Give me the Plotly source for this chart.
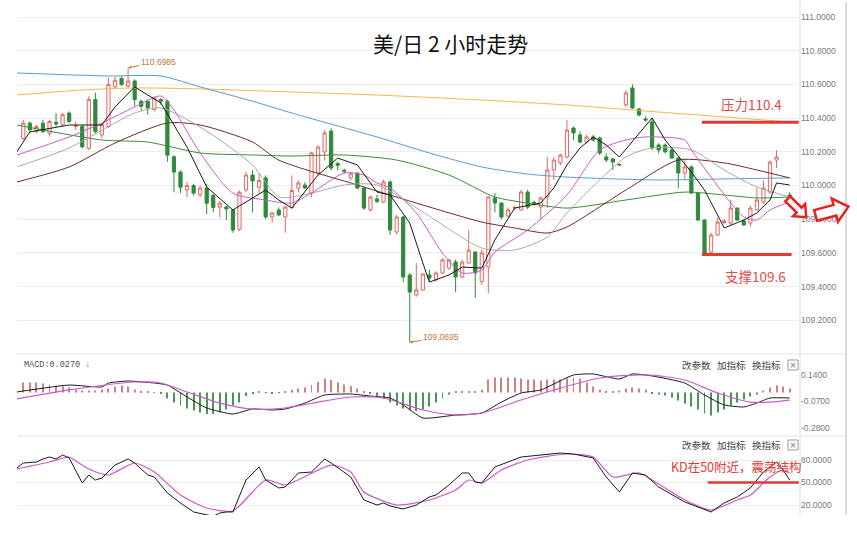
import math
import plotly.graph_objects as go

# ---------------- data ----------------
bar_index = list(range(118))
open_ = [110.28,110.37,110.32,110.37,110.31,110.375,110.36,110.43,110.35,110.35,
         110.22,110.51,110.30,110.35,110.585,110.635,110.59,110.62,110.50,110.50,
         110.45,110.51,110.50,110.17,110.08,109.975,110.00,109.945,109.985,109.94,
         109.872,109.872,109.855,109.74,109.973,110.062,109.99,110.045,109.813,109.855,
         109.813,109.87,109.985,110.003,109.955,110.074,110.199,110.323,110.13,110.09,
         110.045,110.074,109.985,109.855,109.92,109.902,110.021,109.724,109.813,109.469,
         109.35,109.38,109.469,109.439,109.481,109.51,109.546,109.457,109.54,109.605,
         109.43,109.516,109.926,109.896,109.819,109.866,109.855,109.961,109.90,109.872,
         109.932,110.092,110.134,110.169,110.341,110.30,110.258,110.288,110.282,110.169,
         110.157,110.125,110.478,110.579,110.454,110.395,110.377,110.24,110.24,110.211,
         110.163,110.074,110.11,109.955,109.795,109.605,109.706,109.78,109.777,109.866,
         109.79,109.777,109.855,109.902,109.961,110.151,None,109.944]
high = [110.39,110.38,110.36,110.39,110.39,110.43,110.43,110.44,110.38,110.36,
        110.53,110.55,110.37,110.64,110.645,110.65,110.6985,110.63,110.51,110.51,
        110.53,110.52,110.51,110.18,110.09,110.02,110.01,110.00,110.01,109.95,
        109.91,109.88,109.86,109.97,110.08,110.09,110.07,110.06,109.84,109.87,
        109.88,110.06,110.03,110.02,110.20,110.24,110.33,110.34,110.14,110.10,
        110.08,110.08,109.99,109.94,109.945,110.035,110.03,109.825,109.82,109.48,
        109.54,109.48,109.50,109.49,109.57,109.565,109.56,109.56,109.736,109.61,
        109.62,109.935,109.955,109.90,109.87,109.88,109.975,109.975,109.91,109.935,
        110.17,110.17,110.19,110.39,110.35,110.32,110.30,110.30,110.29,110.19,
        110.165,110.13,110.567,110.60,110.46,110.41,110.40,110.25,110.25,110.22,
        110.17,110.15,110.12,109.96,109.80,109.72,109.81,109.80,109.914,109.87,
        109.80,109.88,109.985,110.03,110.15,110.21,None,109.96]
low = [110.27,110.32,110.31,110.31,110.29,110.35,110.35,110.37,110.33,110.22,
       110.21,110.31,110.28,110.34,110.58,110.59,110.58,110.47,110.44,110.42,
       110.44,110.48,110.14,109.96,109.955,109.93,109.94,109.93,109.83,109.84,
       109.81,109.795,109.72,109.73,109.96,109.84,109.955,109.80,109.78,109.82,
       109.72,109.86,109.96,109.98,109.93,110.06,110.15,110.09,110.09,110.07,
       110.03,109.98,109.855,109.845,109.895,109.895,109.706,109.71,109.427,109.0695,
       109.34,109.375,109.427,109.43,109.475,109.50,109.368,109.45,109.535,109.332,
       109.41,109.362,109.84,109.80,109.81,109.855,109.85,109.86,109.88,109.80,
       109.866,110.033,110.12,110.16,110.27,110.25,110.25,110.26,110.18,110.139,
       110.092,110.118,110.466,110.455,110.41,110.38,110.21,110.19,110.19,110.16,
       109.985,110.033,109.95,109.79,109.587,109.593,109.70,109.77,109.766,109.79,
       109.76,109.755,109.85,109.89,109.95,110.104,None,109.92]
close = [110.37,110.33,110.35,110.32,110.38,110.365,110.42,110.38,110.355,110.23,
         110.51,110.32,110.36,110.60,110.625,110.60,110.62,110.51,110.47,110.46,
         110.52,110.50,110.18,110.08,109.99,110.00,109.955,109.985,109.895,109.87,
         109.895,109.861,109.736,109.96,110.062,110.027,110.03,109.813,109.837,109.825,
         109.872,109.97,110.015,109.985,110.193,110.228,110.312,110.104,110.12,110.085,
         110.07,109.985,109.866,109.932,109.905,110.021,109.736,109.813,109.457,109.368,
         109.38,109.475,109.451,109.481,109.558,109.558,109.457,109.546,109.617,109.481,
         109.60,109.932,109.896,109.813,109.855,109.87,109.961,109.872,109.895,109.926,
         110.092,110.151,110.181,110.329,110.312,110.258,110.288,110.27,110.193,110.151,
         110.139,110.122,110.549,110.46,110.418,110.389,110.223,110.211,110.20,110.163,
         110.074,110.11,109.955,109.795,109.599,109.706,109.783,109.79,109.866,109.795,
         109.766,109.866,109.914,109.985,110.139,110.169,None,109.93]

ma5_x = [-1,1,7,12,14,17,19,21,25,28,32,35,37,39,41,45,48,51,54,56,59,61,62,65,67,70,72,75,79,81,
         83,85,87,89,91,96,98,102,104,106,107,110,112,114,115,117]
ma5_y = [110.199,110.318,110.359,110.359,110.466,110.585,110.537,110.490,110.228,109.991,
         109.855,109.926,109.973,109.914,109.866,110.062,110.163,110.122,109.961,109.944,
         109.777,109.540,109.427,109.469,109.516,109.510,109.677,109.866,109.896,109.985,
         110.122,110.223,110.288,110.240,110.169,110.401,110.270,110.080,109.973,109.825,
         109.748,109.795,109.837,109.914,110.015,110.003]
ma10_x = [-1,7,12,17,21,23,27,32,37,41,44,49,52,54,56,60,64,67,70,72,77,83,88,92,95,101,102,105,110,112,114,117]
ma10_y = [110.181,110.288,110.371,110.466,110.531,110.448,110.193,109.955,109.914,109.896,
          109.955,110.074,110.062,110.015,109.985,109.837,109.599,109.481,109.499,109.605,
          109.736,109.944,110.211,110.270,110.288,110.270,110.211,110.050,109.813,109.795,
          109.855,109.902]
ma20_x = [-1,7,17,21,27,35,39,44,49,54,61,70,75,80,83,92,96,102,107,112,117]
ma20_y = [110.110,110.223,110.430,110.460,110.347,110.122,109.932,109.955,110.003,110.003,
          109.843,109.629,109.617,109.694,109.837,110.169,110.223,110.211,110.092,109.991,109.932]
ma_brown_x = [-1,7,14,22,27,35,39,51,61,70,75,80,83,92,100,107,112,117]
ma_brown_y = [110.021,110.110,110.252,110.371,110.359,110.258,110.151,110.003,109.884,109.783,
              109.748,109.718,109.754,109.973,110.151,110.134,110.092,110.045]
ma_green_x = [-1,12,19,27,35,41,49,57,65,72,77,83,92,101,107,112,117]
ma_green_y = [110.359,110.270,110.258,110.193,110.181,110.175,110.181,110.151,110.062,109.932,
              109.896,109.866,109.914,109.961,109.944,109.926,109.932]
ma_blue_x = [-1,13,21,27,35,41,54,62,70,77,83,97,107,117]
ma_blue_y = [110.668,110.650,110.650,110.585,110.500,110.430,110.288,110.193,110.110,110.068,
             110.050,110.033,110.039,110.045]
ma_orange_x = [-1,9,17,27,41,54,70,83,97,107,117]
ma_orange_y = [110.537,110.567,110.579,110.573,110.555,110.537,110.507,110.478,110.436,110.407,110.377]

macd_hist = [0.079,0.079,0.079,0.071,0.063,0.056,0.048,0.040,0.024,0.016,
             0.016,0.016,0.024,0.032,0.048,0.056,0.048,0.024,0.008,0.006,
             0.003,-0.012,-0.048,-0.079,-0.103,-0.127,-0.143,-0.159,-0.171,-0.171,
             -0.159,-0.135,-0.103,-0.079,-0.028,-0.008,0.006,-0.004,-0.008,-0.004,
             0.008,0.024,0.032,0.040,0.060,0.083,0.111,0.099,0.079,0.063,
             0.052,0.032,0.004,-0.012,-0.028,-0.052,-0.079,-0.103,-0.127,-0.143,
             -0.147,-0.135,-0.111,-0.079,-0.048,-0.016,0.008,0.008,0.008,0.012,
             0.024,0.103,0.119,0.119,0.119,0.119,0.111,0.103,0.103,0.095,
             0.103,0.103,0.103,0.111,0.119,0.111,0.079,0.048,0.024,0.008,
             0.004,0.016,0.032,0.040,0.032,0.024,-0.008,-0.016,-0.024,-0.040,
             -0.063,-0.087,-0.111,-0.135,-0.167,-0.183,-0.159,-0.135,-0.103,-0.079,
             -0.056,-0.032,-0.016,0.016,0.040,0.056,0.048,0.032]
dif_x = [-1,7,12,13,16,20,22,25,28,32,35,38,40,43,46,50,53,56,58,61,66,70,73,76,79,84,87,91,93,96,
         101,104,107,110,112,114,117]
dif_y = [0.004,0.059,0.044,0.075,0.091,0.075,0.059,-0.036,-0.123,-0.171,
         -0.131,-0.139,-0.131,-0.084,-0.020,-0.012,-0.028,-0.044,-0.099,-0.203,
         -0.179,-0.163,-0.076,-0.004,0.020,0.139,0.147,0.107,0.147,0.131,
         0.075,-0.020,-0.099,-0.115,-0.084,-0.044,-0.044]
dea_x = [-1,7,17,21,25,30,35,40,45,50,55,61,66,70,76,81,88,95,101,106,111,114,117]
dea_y = [-0.052,0.020,0.083,0.075,0.004,-0.084,-0.131,-0.123,-0.076,-0.036,-0.044,-0.139,
         -0.179,-0.163,-0.060,0.020,0.115,0.139,0.099,-0.004,-0.076,-0.076,-0.060]

k_x = [-1,0,2,3,4,5,6,7,9,10,11,12,14,16,17,19,20,22,24,26,29,30,31,32,34,36,37,39,40,42,
       44,46,47,50,52,54,55,56,58,60,62,63,65,67,68,69,70,72,76,79,82,84,87,89,91,93,95,97,
       101,105,107,109,111,113,115,116,117]
k_y = [69.3,76,77.3,81.3,84,81.3,86.7,82.7,49.3,60,53.3,56,73.3,81.3,76,60,57.3,36,22.7,10.7,
       5,9.3,10.7,10.7,53.3,70.7,53.3,42.7,44,62.7,64,81.3,76,57.3,26.7,20,22.7,18.7,14.7,20,
       30.7,33.3,46.7,62.7,62.7,50.7,49.3,70.7,84,86.7,89.3,88,82.7,57.3,37.3,62.7,60,44,24,10.7,
       22.7,30.7,42.7,64,77.3,66.7,53.3]
d_x = [-1,4,7,8,10,13,17,20,24,28,32,37,40,47,50,52,57,62,66,68,70,73,77,83,87,90,94,96,101,105,
       109,111,114,116,117]
d_y = [68,77.3,84,78.7,68,60,76,64,33.3,16,12,53.3,46.7,73.3,64,37.3,20,26.7,40,53.3,
       49.3,66.7,80,88,84,57.3,62.7,53.3,26.7,13.3,26.7,33.3,57.3,66.7,62.7]

price_ticks = [109.2,109.4,109.6,109.8,110.0,110.2,110.4,110.6,110.8,111.0]
macd_ticks = [0.14,-0.07,-0.28]
kd_ticks = [80,50,20]
resist_level = 110.375
support_level = 109.59
kd_level = 50
high_mark = (16, 110.6985)
low_mark = (59, 109.0695)

# ---------------- layout helpers ----------------
W, H = 857, 542
L, R, T, B = 17, 57, 0, 27
PW, PH = W - L - R, H - T - B


def px(x):
    return (x - L) / PW


def py(y):
    return (PH - (y - T)) / PH


CJK = "Noto Sans CJK SC"
NUM = "Liberation Sans"
RED = "#e23a36"

fig = go.Figure()

fig.add_trace(go.Candlestick(
    x=bar_index, open=open_, high=high, low=low, close=close,
    xaxis="x", yaxis="y", whiskerwidth=0,
    increasing=dict(line=dict(color="#de6b66", width=1), fillcolor="#fff7f7"),
    decreasing=dict(line=dict(color="#2f8a3b", width=1), fillcolor="#2f8a3b"),
    hoverinfo="skip"))

ma_specs = [
    (ma_orange_x, ma_orange_y, "#f2b84b", "spline"),
    (ma_blue_x, ma_blue_y, "#5b9bd0", "spline"),
    (ma_green_x, ma_green_y, "#3d8c3d", "spline"),
    (ma_brown_x, ma_brown_y, "#6e2a2a", "spline"),
    (ma20_x, ma20_y, "#a9a9a9", "spline"),
    (ma10_x, ma10_y, "#cc5acc", "spline"),
    (ma5_x, ma5_y, "#1a1a1a", "linear"),
]
for xs, ys, col, shp in ma_specs:
    fig.add_trace(go.Scatter(x=xs, y=ys, mode="lines", xaxis="x", yaxis="y",
                             line=dict(color=col, width=1, shape=shp, smoothing=0.7),
                             hoverinfo="skip"))

fig.add_trace(go.Bar(x=bar_index, y=macd_hist, xaxis="x2", yaxis="y2", width=0.15,
                     marker=dict(color=["#cf8080" if v >= 0 else "#4a9458" for v in macd_hist],
                                 line=dict(width=0)),
                     hoverinfo="skip"))
fig.add_trace(go.Scatter(x=dif_x, y=dif_y, mode="lines", xaxis="x2", yaxis="y2",
                         line=dict(color="#1a1a1a", width=1, shape="spline", smoothing=0.5),
                         hoverinfo="skip"))
fig.add_trace(go.Scatter(x=dea_x, y=dea_y, mode="lines", xaxis="x2", yaxis="y2",
                         line=dict(color="#cc5acc", width=1.2, shape="spline", smoothing=0.7),
                         hoverinfo="skip"))

fig.add_trace(go.Scatter(x=d_x, y=d_y, mode="lines", xaxis="x3", yaxis="y3",
                         line=dict(color="#cc5acc", width=1.2, shape="spline", smoothing=0.6),
                         hoverinfo="skip"))
fig.add_trace(go.Scatter(x=k_x, y=k_y, mode="lines", xaxis="x3", yaxis="y3",
                         line=dict(color="#1a1a1a", width=1), hoverinfo="skip"))

xr = [-0.962, 118.58]
xax = dict(range=xr, domain=[0, 1], showticklabels=False, showgrid=False, zeroline=False,
           showline=False, ticks="", fixedrange=True)
yax_common = dict(side="right", zeroline=False, showline=False, ticks="",
                  tickfont=dict(family=NUM, size=8.5, color="#7a7a7a"), gridcolor="#eeeeee",
                  gridwidth=1)

fig.update_layout(
    width=W, height=H, margin=dict(l=L, r=R, t=T, b=B),
    paper_bgcolor="white", plot_bgcolor="white", showlegend=False, hovermode=False,
    xaxis=dict(xax, anchor="y", rangeslider=dict(visible=False)),
    xaxis2=dict(xax, anchor="y2"),
    xaxis3=dict(xax, anchor="y3"),
    yaxis=dict(yax_common, domain=[py(352), 1.0], range=[109.0119, 111.1009],
               tickvals=price_ticks, ticktext=["%.4f" % v for v in price_ticks], showgrid=True),
    yaxis2=dict(yax_common, domain=[py(436), py(354)], range=[-0.3454, 0.3054],
                tickvals=macd_ticks, ticktext=["%.4f" % v for v in macd_ticks], showgrid=False),
    yaxis3=dict(yax_common, domain=[0, py(437)], range=[6.67, 110.67],
                tickvals=kd_ticks, ticktext=["%.4f" % v for v in kd_ticks], showgrid=True),
)

shapes = []
# frame lines
shapes.append(dict(type="line", xref="paper", yref="paper", x0=px(800), x1=px(800), y0=0, y1=1,
                   line=dict(color="#dddddd", width=1), layer="below"))
shapes.append(dict(type="line", xref="paper", yref="paper", x0=px(846), x1=px(846), y0=0, y1=py(2),
                   line=dict(color="#cfcfcf", width=1.5)))
for yy in (354, 436):
    shapes.append(dict(type="line", xref="paper", yref="paper", x0=0, x1=px(846), y0=py(yy), y1=py(yy),
                       line=dict(color="#e2e2e2", width=1)))
# key levels
shapes.append(dict(type="line", xref="x", yref="y", x0=103.6, x1=118.4, y0=resist_level, y1=resist_level,
                   line=dict(color=RED, width=3)))
shapes.append(dict(type="line", xref="x", yref="y", x0=103.6, x1=117.3, y0=support_level, y1=support_level,
                   line=dict(color=RED, width=3)))
shapes.append(dict(type="line", xref="x3", yref="y3", x0=104.5, x1=118.4, y0=kd_level, y1=kd_level,
                   line=dict(color=RED, width=2.5)))


def arrow_path(cx, cy, length, body_hw, head_hw, head_len, ang_deg):
    a = math.radians(ang_deg)
    c, s = math.cos(a), math.sin(a)
    half = length / 2
    base = half - head_len
    pts = [(-half, -body_hw), (base, -body_hw), (base, -head_hw), (half, 0),
           (base, head_hw), (base, body_hw), (-half, body_hw)]
    out = []
    for u, v in pts:
        X = cx + u * c - v * s
        Y = cy + u * s + v * c
        out.append("%.5f,%.5f" % (px(X), py(Y)))
    return "M " + " L ".join(out) + " Z"


shapes.append(dict(type="path", xref="paper", yref="paper",
                   path=arrow_path(797, 208, 26, 3.5, 8.5, 10, 45),
                   line=dict(color="#e8201e", width=2.5), fillcolor="white"))
shapes.append(dict(type="path", xref="paper", yref="paper",
                   path=arrow_path(832, 211, 34, 5.5, 12, 14, -15),
                   line=dict(color="#e8201e", width=2.5), fillcolor="white"))
# close boxes
for yy in (365, 445):
    shapes.append(dict(type="rect", xref="paper", yref="paper", x0=px(788), x1=px(798),
                       y0=py(yy + 5), y1=py(yy - 5), line=dict(color="#999999", width=1)))
fig.update_layout(shapes=shapes)

ann = []


def text(x, y, s, size, color, family=CJK, anchor="center"):
    ann.append(dict(xref="paper", yref="paper", x=px(x), y=py(y), text=s, showarrow=False,
                    xanchor=anchor, yanchor="middle", font=dict(family=family, size=size, color=color)))


text(450, 43, "美/日 2 小时走势", 21, "#111111")
text(751, 104, "压力110.4", 13.5, "#e24b4b")
text(755, 276, "支撑109.6", 13.5, "#e24b4b")
text(736, 466, "KD在50附近，震荡结构", 12.5, "#e23a36")
text(22, 365, "MACD:0.0270 ↓", 8.5, "#555555", family="Liberation Mono", anchor="left")
for yy in (365, 445):
    text(696.5, yy, "改参数", 9.5, "#444444")
    text(731.5, yy, "加指标", 9.5, "#444444")
    text(766.5, yy, "换指标", 9.5, "#444444")
    text(793, yy, "×", 10, "#777777", family=NUM)

ann.append(dict(xref="x", yref="y", x=high_mark[0], y=high_mark[1], text="%.4f" % high_mark[1],
                showarrow=True, arrowhead=2, arrowsize=0.6, arrowwidth=1, arrowcolor="#c8773a",
                ax=30, ay=-6, font=dict(family=NUM, size=8.5, color="#c8773a")))
ann.append(dict(xref="x", yref="y", x=low_mark[0], y=low_mark[1], text="%.4f" % low_mark[1],
                showarrow=True, arrowhead=2, arrowsize=0.6, arrowwidth=1, arrowcolor="#c8773a",
                ax=31, ay=-5, font=dict(family=NUM, size=8.5, color="#c8773a")))
fig.update_layout(annotations=ann)

fig.write_html("out.html", config={"displayModeBar": False},
               post_script="document.body.style.margin='0';document.body.style.overflow='hidden';")
